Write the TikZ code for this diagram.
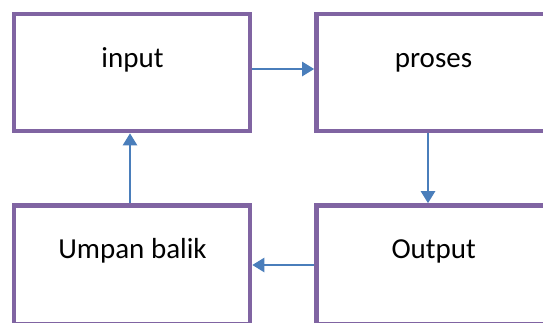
\documentclass[tikz,border=0pt]{standalone}
\usepackage{fontspec}
\setmainfont{Carlito}
\usetikzlibrary{arrows.meta}
\definecolor{boxpurple}{HTML}{8064A2}
\definecolor{flowblue}{HTML}{4A7EBB}
\tikzset{
  stage/.style={draw=boxpurple, line width=4.6pt, fill=white, rectangle,
    minimum width=236pt, minimum height=117pt, inner sep=0pt},
  caption/.style={anchor=base, inner sep=0pt, font=\fontsize{29}{34}\selectfont},
  flow/.style={draw=flowblue, line width=2.4pt,
    -{Triangle[length=12pt,width=14pt]}}
}
\begin{document}
\begin{tikzpicture}[x=1pt, y=-1pt]
  \clip (0,0) rectangle (543,322);
  \fill[white] (0,0) rectangle (543,322);
  % the four stages of the cycle
  \node[stage] (in)  at (132,72.5) {};
  \node[stage, minimum width=234pt] (ps)  at (433.5,72.5) {};
  \node[stage, minimum height=119pt] (fb)  at (132,265) {};
  \node[stage, minimum width=234pt, minimum height=119pt] (out) at (433.5,265) {};
  % stage names
  \node[caption] (tin)  at (132.5,67) {input};
  \node[caption] (tps)  at (433.5,67) {proses};
  \node[caption] (tfb)  at (132.5,258) {Umpan balik};
  \node[caption] (tout) at (433.7,258) {Output};
  % connectors
  \draw[flow] ([yshift=3.5pt]in.east) -- ([yshift=3.5pt]ps.west);
  \draw[flow] ([xshift=-5.5pt]ps.south) -- ([xshift=-5.5pt]out.north);
  \draw[flow] (out.west) -- (fb.east);
  \draw[flow] ([xshift=-2pt]fb.north) -- ([xshift=-2pt]in.south);
\end{tikzpicture}
\end{document}
